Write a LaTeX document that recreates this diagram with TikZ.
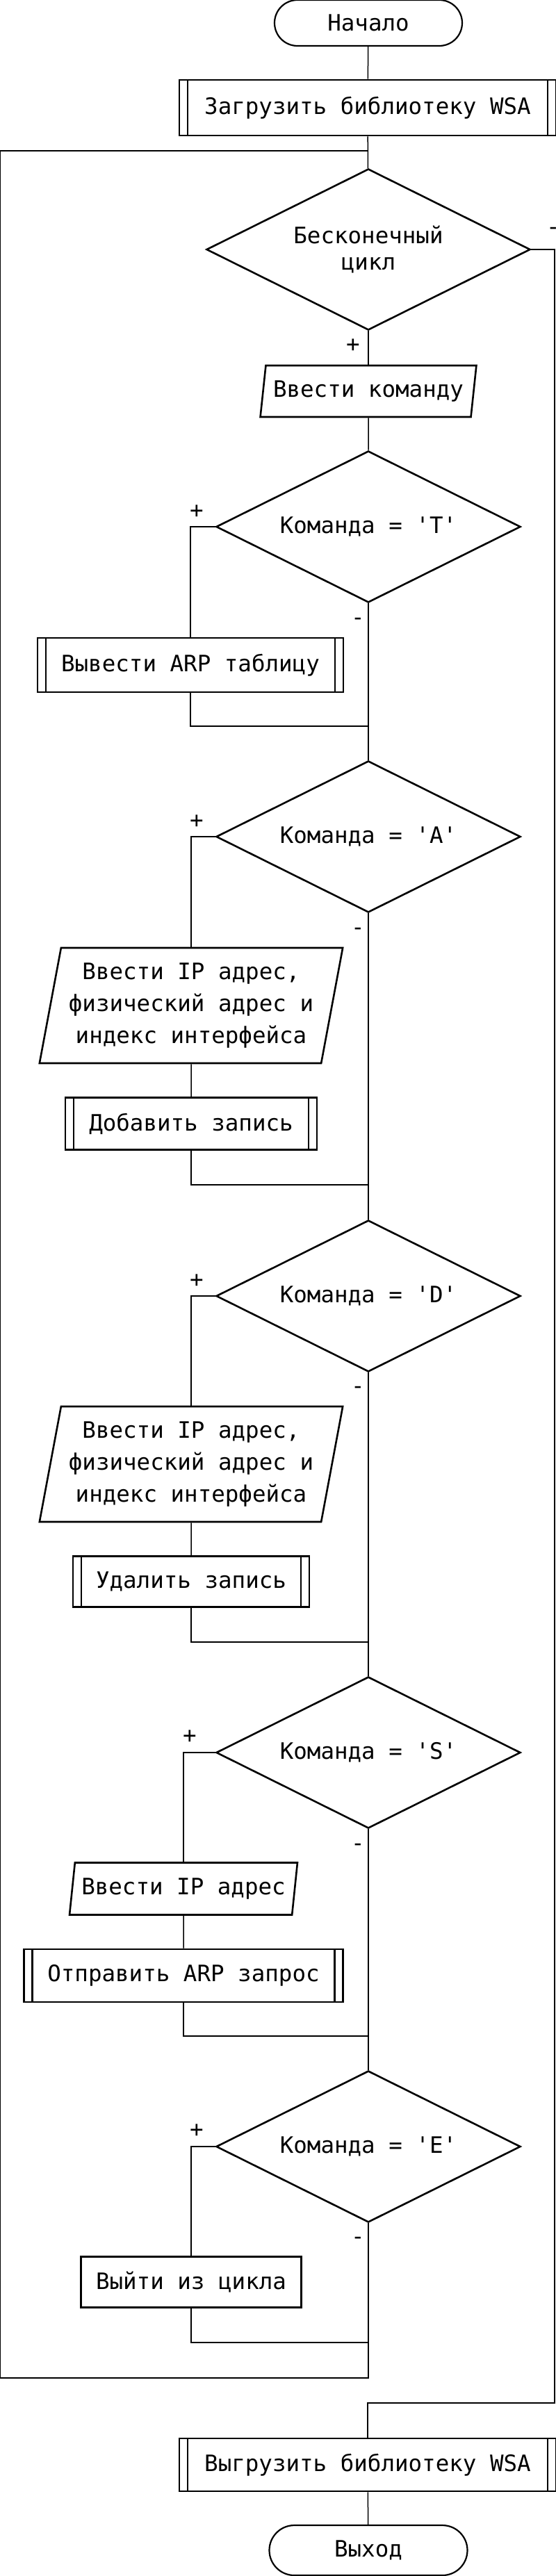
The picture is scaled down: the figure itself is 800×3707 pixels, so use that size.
\documentclass[tikz,border=0pt]{standalone}
\usepackage{fontspec}
\newfontfamily\flowfont{DejaVu Sans Mono}
\usepackage{tikz}
\usetikzlibrary{
    positioning,
    shapes.geometric,
    shapes.misc
}

\begin{document}
\begin{tikzpicture}[
        x=1pt, y=-1pt,
        font=\flowfont\fontsize{32.5pt}{45.6pt}\selectfont,
        base/.style={
            draw,
            line width=2.6pt,
            inner sep=0pt,
            align=center
        },
        term/.style={
            base,
            rounded rectangle,
            line width=2.2pt
        },
        proc/.style={
            base,
            rectangle
        },
        sub/.style={
            base,
            rectangle,
            path picture={
                \draw[line width=2.6pt]
                    ([xshift=12pt]path picture bounding box.north west) -- ([xshift=12pt]path picture bounding box.south west)
                    ([xshift=-12pt]path picture bounding box.north east) -- ([xshift=-12pt]path picture bounding box.south east);
            }
        },
        io/.style={
            base,
            trapezium,
            trapezium left angle=76.5,
            trapezium right angle=103.5,
            trapezium stretches=true
        },
        cond/.style={
            base,
            diamond,
            aspect=2
        },
        cmd/.style={
            cond,
            minimum width=438pt,
            minimum height=218pt
        },
        line/.style={
            line width=1.5pt
        },
        lbl/.style={
            inner sep=0pt
        }
    ]
    \useasboundingbox (0,0) rectangle (800,3707);

    \node[term, minimum width=270pt, minimum height=66pt] (start) at (530,33) {Начало};
    \node[sub, minimum width=542pt, minimum height=80pt] (load) at (529,155) {Загрузить библиотеку WSA};
    \node[cond, minimum width=466pt, minimum height=232pt, font=\flowfont\fontsize{32.5pt}{38pt}\selectfont] (loop) at (530,359) {Бесконечный\\цикл};
    \node[io, minimum width=311pt, minimum height=74pt] (readCmd) at (530,563) {Ввести команду};

    \node[cmd] (cmdT) at (530,758) {Команда = 'T'};
    \node[sub, minimum width=440pt, minimum height=78pt] (showTab) at (274,957) {Вывести ARP таблицу};

    \node[cmd] (cmdA) at (530,1204) {Команда = 'A'};
    \node[io, minimum width=438pt, minimum height=166pt] (readAdd) at (275,1447) {Ввести IP адрес,\\физический адрес и\\индекс интерфейса};
    \node[sub, minimum width=362pt, minimum height=75pt] (addRec) at (275,1617) {Добавить запись};

    \node[cmd] (cmdD) at (530,1865) {Команда = 'D'};
    \node[io, minimum width=438pt, minimum height=166pt] (readDel) at (275,2107) {Ввести IP адрес,\\физический адрес и\\индекс интерфейса};
    \node[sub, minimum width=340pt, minimum height=73pt] (delRec) at (275,2276) {Удалить запись};

    \node[cmd] (cmdS) at (530,2522) {Команда = 'S'};
    \node[io, minimum width=329pt, minimum height=75pt] (readIp) at (264,2718) {Ввести IP адрес};
    \node[sub, minimum width=459pt, minimum height=76pt] (sendReq) at (264,2843) {Отправить ARP запрос};

    \node[cmd] (cmdE) at (530,3089) {Команда = 'E'};
    \node[proc, minimum width=317pt, minimum height=73pt] (quit) at (275,3284) {Выйти из цикла};

    \node[sub, minimum width=542pt, minimum height=76pt] (unload) at (529,3547) {Выгрузить библиотеку WSA};
    \node[term, minimum width=285pt, minimum height=72pt] (finish) at (530,3670) {Выход};

    \coordinate (loopTop) at (530,217);
    \coordinate (loopBot) at (530,3422);
    \coordinate (loopLeft) at (0,3422);
    \coordinate (exitR) at (798,3458);
    \coordinate (joinT) at (530,1045);
    \coordinate (joinA) at (530,1705);
    \coordinate (joinD) at (530,2363);
    \coordinate (joinS) at (530,2930);
    \coordinate (joinE) at (530,3371);

    \draw[line] (start) -- (load);
    \draw[line] (load) -- (loop);
    \draw[line] (loop) -- (readCmd);
    \draw[line] (readCmd) -- (cmdT);
    \draw[line] (cmdT.west) -| (showTab.north);
    \draw[line] (showTab.south) |- (joinT);
    \draw[line] (cmdT) -- (cmdA);
    \draw[line] (cmdA.west) -| (readAdd.north);
    \draw[line] (readAdd) -- (addRec);
    \draw[line] (addRec.south) |- (joinA);
    \draw[line] (cmdA) -- (cmdD);
    \draw[line] (cmdD.west) -| (readDel.north);
    \draw[line] (readDel) -- (delRec);
    \draw[line] (delRec.south) |- (joinD);
    \draw[line] (cmdD) -- (cmdS);
    \draw[line] (cmdS.west) -| (readIp.north);
    \draw[line] (readIp) -- (sendReq);
    \draw[line] (sendReq.south) |- (joinS);
    \draw[line] (cmdS) -- (cmdE);
    \draw[line] (cmdE.west) -| (quit.north);
    \draw[line] (quit.south) |- (joinE);
    \draw[line] (cmdE.south) -- (loopBot) -- (loopLeft) |- (loopTop);
    \draw[line] (loop.east) -| (exitR) -| (unload.north);
    \draw[line] (unload) -- (finish);

    \node[lbl] (loopYes) at (508,497) {+};
    \node[lbl] (loopNo) at (796,332) {-};
    \node[lbl] (tYes) at (283,736) {+};
    \node[lbl] (tNo) at (515,894) {-};
    \node[lbl] (aYes) at (283,1182) {+};
    \node[lbl] (aNo) at (515,1340) {-};
    \node[lbl] (dYes) at (283,1843) {+};
    \node[lbl] (dNo) at (515,2000) {-};
    \node[lbl] (sYes) at (273,2499) {+};
    \node[lbl] (sNo) at (515,2658) {-};
    \node[lbl] (eYes) at (283,3066) {+};
    \node[lbl] (eNo) at (515,3224) {-};
\end{tikzpicture}
\end{document}
